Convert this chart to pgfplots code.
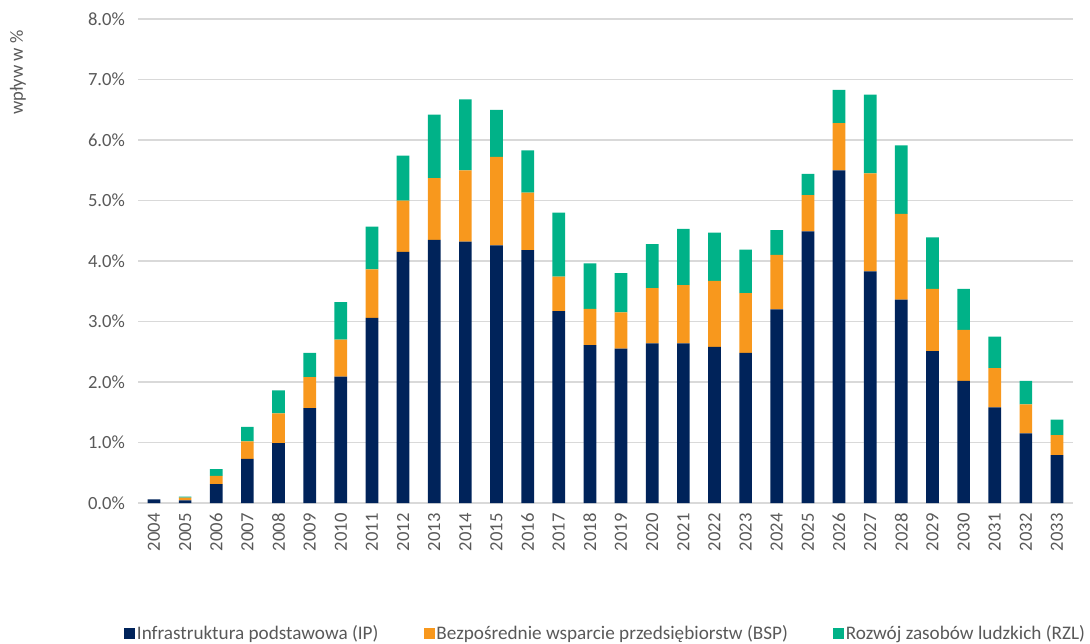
\documentclass[border=0pt]{standalone}
\usepackage{fontspec}
\setmainfont{Carlito}
\usepackage{pgfplots}
\usepackage{pgfplotstable}
\pgfplotsset{compat=1.18}
\definecolor{ipc}{RGB}{0,35,90}
\definecolor{bspc}{RGB}{248,152,29}
\definecolor{rzlc}{RGB}{0,178,136}
\definecolor{textgray}{RGB}{89,89,89}
\definecolor{gridgray}{RGB}{217,217,217}
\pgfplotstableread{
year IP BSP RZL
2004 0.06 0.00 0.00
2005 0.045 0.043 0.017
2006 0.31 0.14 0.11
2007 0.73 0.29 0.24
2008 0.99 0.49 0.38
2009 1.57 0.51 0.40
2010 2.09 0.61 0.62
2011 3.06 0.80 0.71
2012 4.15 0.85 0.74
2013 4.35 1.02 1.05
2014 4.32 1.18 1.17
2015 4.26 1.46 0.78
2016 4.18 0.95 0.70
2017 3.17 0.57 1.06
2018 2.61 0.60 0.75
2019 2.55 0.60 0.65
2020 2.64 0.91 0.73
2021 2.64 0.96 0.93
2022 2.58 1.09 0.80
2023 2.48 0.99 0.72
2024 3.20 0.90 0.41
2025 4.49 0.60 0.35
2026 5.50 0.78 0.55
2027 3.83 1.62 1.30
2028 3.36 1.42 1.13
2029 2.51 1.03 0.85
2030 2.02 0.84 0.68
2031 1.58 0.65 0.52
2032 1.15 0.48 0.39
2033 0.79 0.33 0.26
}\datatable
\begin{document}
\begin{tikzpicture}
\path[use as bounding box] (-138.4pt,-140pt) rectangle (951.6pt,503pt);
\begin{axis}[
  scale only axis,
  width=934.2pt, height=484pt,
  ybar stacked,
  bar width=12.7pt,
  xmin=2003.5, xmax=2033.5,
  ymin=0, ymax=8,
  xtick={2004,...,2033},
  ytick={0,...,8},
  /pgf/number format/1000 sep={},
  /pgf/number format/assume math mode=true,
  xticklabel style={rotate=90, anchor=east, font=\fontsize{18.6}{22}\selectfont, text=textgray},
  yticklabel style={font=\fontsize{18.6}{22}\selectfont, text=textgray},
  yticklabel={\pgfmathprintnumber[fixed,fixed zerofill,precision=1]{\tick}\%},
  major tick length=0pt,
  ymajorgrids,
  grid style={gridgray, line width=1.2pt},
  axis x line=bottom, axis y line=left,
  y axis line style={draw=none},
  x axis line style={draw=gridgray, line width=1.4pt, -},
  xticklabel shift=7pt,
  yticklabel shift=10pt,
  ylabel={wpływ w \%},
  every axis y label/.style={at={(axis description cs:-0.129,0.889)}, rotate=90, anchor=center, font=\fontsize{18.6}{22}\selectfont, text=textgray},
  legend style={at={(axis description cs:0.5,-0.2686)}, anchor=center, legend columns=3, draw=none, fill=none,
    font=\fontsize{19.2}{22}\selectfont, text=textgray,
    /tikz/every even column/.append style={column sep=44pt},
    nodes={inner xsep=1.5pt}},
  legend image code/.code={\fill[#1] (0pt,-5.5pt) rectangle (11pt,5.5pt);},
]
\addplot[fill=ipc, draw=none] table[x=year, y=IP] {\datatable};
\addplot[fill=bspc, draw=none] table[x=year, y=BSP] {\datatable};
\addplot[fill=rzlc, draw=none] table[x=year, y=RZL] {\datatable};
\legend{Infrastruktura podstawowa (IP), Bezpośrednie wsparcie przedsiębiorstw (BSP), Rozwój zasobów ludzkich (RZL)}
\end{axis}
\end{tikzpicture}
\end{document}
